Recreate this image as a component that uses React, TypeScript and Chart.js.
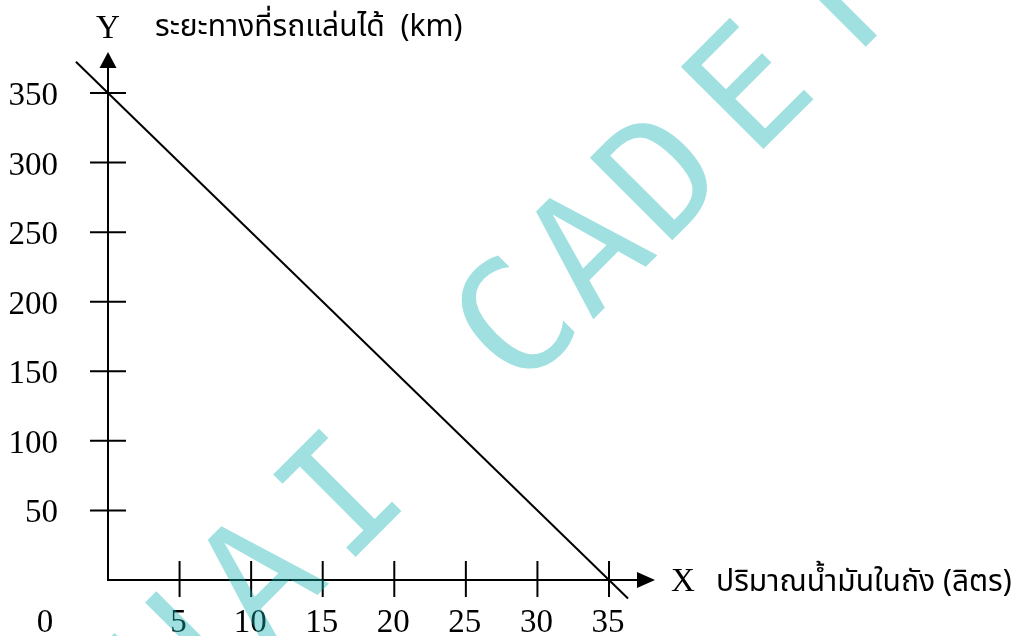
import React, { useEffect, useRef } from "react";
import { Chart, registerables } from "chart.js";

Chart.register(...registerables);

// ---- data ----
const fuelLiters = [0, 35];
const distanceKm = [350, 0];
const xTickValues = [5, 10, 15, 20, 25, 30, 35];
const yTickValues = [50, 100, 150, 200, 250, 300, 350];
const originLabel = "0";
const xAxisLetter = "X";
const yAxisLetter = "Y";
const xAxisTitle = "ปริมาณน้ำมันในถัง (ลิตร)";
const yAxisTitle = "ระยะทางที่รถแล่นได้  (km)";
const watermarkText = "THAI CADET";

const SERIF = '"Liberation Serif", "Times New Roman", serif';
const THAI = '"Noto Sans Thai", "Noto Sans Thai UI", Loma, Garuda, Tahoma, "Noto Sans", sans-serif';

export default function App() {
  const ref = useRef<HTMLCanvasElement>(null);

  useEffect(() => {
    document.body.style.margin = "0";
    const canvas = ref.current!;

    const mathAxes = {
      id: "mathAxes",
      beforeDatasetsDraw(chart: any) {
        const ctx = chart.ctx as CanvasRenderingContext2D;
        const xs = chart.scales.x;
        const ys = chart.scales.y;
        const x0 = xs.getPixelForValue(0);
        const y0 = ys.getPixelForValue(0);
        const xEnd = xs.getPixelForValue(35);
        const yTop = ys.getPixelForValue(350);
        ctx.save();
        ctx.strokeStyle = "#000";
        ctx.fillStyle = "#000";
        ctx.lineWidth = 2;
        ctx.lineCap = "butt";
        // x axis
        const xTip = xEnd + 46;
        ctx.beginPath();
        ctx.moveTo(x0 - 1, y0);
        ctx.lineTo(xTip - 14, y0);
        ctx.stroke();
        ctx.beginPath();
        ctx.moveTo(xTip, y0);
        ctx.lineTo(xTip - 18, y0 - 8);
        ctx.lineTo(xTip - 18, y0 + 8);
        ctx.closePath();
        ctx.fill();
        // y axis
        const yTip = yTop - 41;
        ctx.beginPath();
        ctx.moveTo(x0, y0 + 1);
        ctx.lineTo(x0, yTip + 14);
        ctx.stroke();
        ctx.beginPath();
        ctx.moveTo(x0, yTip);
        ctx.lineTo(x0 - 8.5, yTip + 16);
        ctx.lineTo(x0 + 8.5, yTip + 16);
        ctx.closePath();
        ctx.fill();

        // y ticks
        ctx.font = `33px ${SERIF}`;
        ctx.textAlign = "right";
        ctx.textBaseline = "alphabetic";
        for (const v of yTickValues) {
          const py = ys.getPixelForValue(v);
          ctx.beginPath();
          ctx.moveTo(x0 - 18, py);
          ctx.lineTo(x0 + 18, py);
          ctx.stroke();
          ctx.fillText(String(v), x0 - 50, py + 12);
        }
        // x ticks
        ctx.textAlign = "center";
        for (const v of xTickValues) {
          const px = xs.getPixelForValue(v);
          ctx.beginPath();
          ctx.moveTo(px, y0 - 19);
          ctx.lineTo(px, y0 + 17);
          ctx.stroke();
          ctx.fillText(String(v), px - 1, y0 + 52);
        }
        ctx.fillText(originLabel, x0 - 63, y0 + 52);

        // axis letters and titles
        ctx.font = `33px ${SERIF}`;
        ctx.textAlign = "center";
        ctx.fillText(yAxisLetter, x0, yTip - 14);
        ctx.textAlign = "left";
        ctx.fillText(xAxisLetter, xTip + 16, y0 + 11);
        ctx.font = `30px ${THAI}`;
        ctx.fillText(yAxisTitle, x0 + 47, yTip - 16);
        ctx.fillText(xAxisTitle, xTip + 61, y0 + 11);
        ctx.restore();
      },
      afterDatasetsDraw(chart: any) {
        const ctx = chart.ctx as CanvasRenderingContext2D;
        const meta = chart.getDatasetMeta(0);
        const p0 = meta.data[0];
        const p1 = meta.data[meta.data.length - 1];
        const dx = p1.x - p0.x;
        const dy = p1.y - p0.y;
        ctx.save();
        ctx.strokeStyle = "#000";
        ctx.lineWidth = 2;
        ctx.beginPath();
        ctx.moveTo(p0.x, p0.y);
        ctx.lineTo(p0.x - dx * 0.064, p0.y - dy * 0.064);
        ctx.moveTo(p1.x, p1.y);
        ctx.lineTo(p1.x + dx * 0.038, p1.y + dy * 0.038);
        ctx.stroke();
        ctx.restore();
      },
      afterDraw(chart: any) {
        const ctx = chart.ctx as CanvasRenderingContext2D;
        // watermark letter positions along the 45° diagonal
        const along = [-475, -345, -225, -110, 0, 136, 239, 343, 467, 587];
        const size = 160;
        const capH = 0.729 * size;
        ctx.save();
        ctx.fillStyle = "rgba(18,177,180,0.4)";
        ctx.font = `${size}px "DejaVu Sans Mono", monospace`;
        ctx.textAlign = "center";
        ctx.textBaseline = "alphabetic";
        const chars = watermarkText.split("");
        chars.forEach((ch, i) => {
          if (ch === " ") return;
          const t = along[i];
          const cx = 415 + t / Math.SQRT2;
          const cy = 415 - t / Math.SQRT2;
          ctx.save();
          ctx.translate(cx, cy);
          ctx.rotate(-Math.PI / 4);
          ctx.fillText(ch, 0, capH / 2);
          ctx.restore();
        });
        ctx.restore();
      },
    };

    const chart = new Chart(canvas, {
      type: "scatter",
      data: {
        datasets: [
          {
            data: fuelLiters.map((x, i) => ({ x, y: distanceKm[i] })),
            showLine: true,
            borderColor: "#000",
            borderWidth: 2,
            pointRadius: 0,
            clip: false as any,
          },
        ],
      },
      options: {
        animation: false,
        responsive: false,
        events: [],
        layout: { padding: { left: 108, right: 406, top: 93, bottom: 56 } },
        scales: {
          x: { type: "linear", min: 0, max: 35, display: false },
          y: { type: "linear", min: 0, max: 350, display: false },
        },
        plugins: { legend: { display: false }, tooltip: { enabled: false } },
      },
      plugins: [mathAxes],
    });
    return () => chart.destroy();
  }, []);

  return (
    <div style={{ position: "fixed", left: 0, top: 0, width: 1015, height: 636, background: "#fff" }}>
      <canvas ref={ref} width={1015} height={636} style={{ display: "block" }} />
    </div>
  );
}
